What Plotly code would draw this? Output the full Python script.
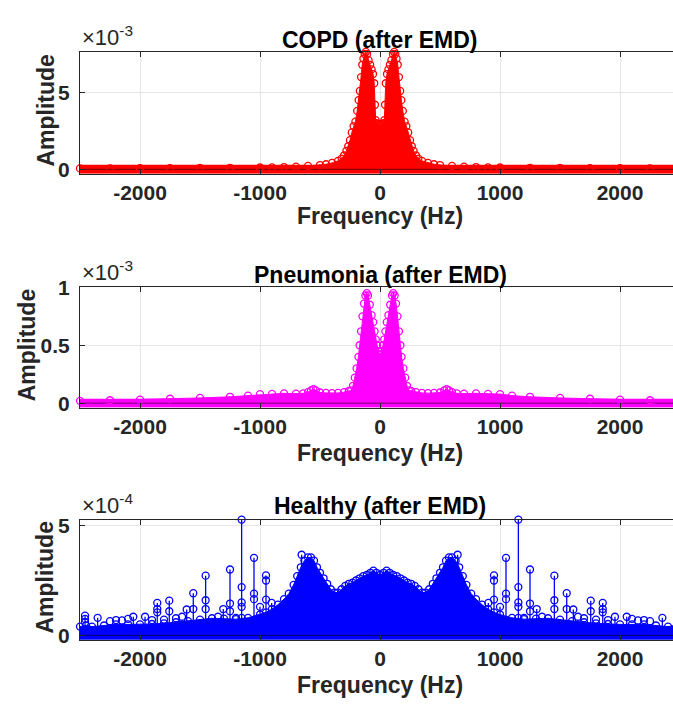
import plotly.graph_objects as go

# ---------------- data ----------------
freq_ticks = [-2000, -1000, 0, 1000, 2000]
freq_tick_text = ["-2000", "-1000", "0", "1000", "2000"]

# COPD spectrum envelope, amplitude in units of 1e-3
copd_freq = [-2500, -2250, -2000, -1750, -1500, -1250, -1000, -900, -800, -700, -600, -500,
             -450, -400, -350, -320, -300, -280, -265, -250, -235, -220, -205, -190, -178,
             -168, -158, -148, -138, -128, -118, -108, -95, -82, -70, -58, -48, -42, -36,
             -28, -18, -8, 0,
             8, 18, 28, 36, 42, 48, 58, 70, 82, 95, 108, 118, 128, 138, 148, 158, 168, 178,
             190, 205, 220, 235, 250, 265, 280, 300, 320, 350, 400, 450, 500, 600, 700, 800,
             900, 1000, 1250, 1500, 1750, 2000, 2250, 2500]
copd_amp = [0.06, 0.06, 0.07, 0.08, 0.09, 0.10, 0.12, 0.13, 0.15, 0.18, 0.22, 0.28,
            0.33, 0.42, 0.55, 0.7, 0.9, 1.2, 1.5, 1.9, 2.4, 2.8, 3.1, 3.8, 4.5,
            5.1, 6.0, 6.8, 7.2, 7.5, 7.64, 7.5, 7.1, 6.8, 6.5, 6.2, 5.6, 4.2, 3.2,
            3.0, 2.95, 2.9, 2.9,
            2.9, 2.95, 3.0, 3.2, 4.2, 5.6, 6.2, 6.5, 6.8, 7.1, 7.5, 7.64, 7.5, 7.2, 6.8, 6.0,
            5.1, 4.5, 3.8, 3.1, 2.8, 2.4, 1.9, 1.5, 1.2, 0.9, 0.7, 0.55, 0.42, 0.33, 0.28,
            0.22, 0.18, 0.15, 0.13, 0.12, 0.10, 0.09, 0.08, 0.07, 0.06, 0.06]

# Pneumonia spectrum envelope, amplitude in units of 1e-3
pneumonia_freq = [-2500, -2250, -2000, -1750, -1500, -1250, -1100, -1000, -900, -800, -700,
                  -640, -600, -575, -555, -535, -500, -450, -400, -350, -300, -260, -240,
                  -225, -210, -195, -180, -170, -158, -146, -134, -122, -110, -100, -85, -70,
                  -56, -45, -35, -25, -15, -6, 0,
                  6, 15, 25, 35, 45, 56, 70, 85, 100, 110, 122, 134, 146, 158, 170, 180, 195,
                  210, 225, 240, 260, 300, 350, 400, 450, 500, 535, 555, 575, 600, 640, 700,
                  800, 900, 1000, 1100, 1250, 1500, 1750, 2000, 2250, 2500]
pneumonia_amp = [0.02, 0.025, 0.03, 0.038, 0.045, 0.055, 0.065, 0.078, 0.08, 0.085, 0.082,
                 0.085, 0.095, 0.11, 0.12, 0.11, 0.092, 0.088, 0.086, 0.088, 0.095, 0.105, 0.11,
                 0.15, 0.22, 0.3, 0.4, 0.5, 0.62, 0.75, 0.86, 0.93, 0.95, 0.93, 0.85, 0.76,
                 0.7, 0.62, 0.55, 0.5, 0.45, 0.42, 0.4,
                 0.42, 0.45, 0.5, 0.55, 0.62, 0.7, 0.76, 0.85, 0.93, 0.95, 0.93, 0.86, 0.75,
                 0.62, 0.5, 0.4, 0.3, 0.22, 0.15, 0.11, 0.105, 0.095, 0.088, 0.086, 0.088,
                 0.092, 0.11, 0.12, 0.11, 0.095, 0.085, 0.082, 0.085, 0.08, 0.078, 0.065,
                 0.055, 0.045, 0.038, 0.03, 0.025, 0.02]

# Healthy spectrum envelope, amplitude in units of 1e-4
healthy_freq = [-2500, -2450, -2400, -2300, -2200, -2100, -2000, -1900, -1800, -1700, -1600,
                -1500, -1400, -1300, -1200, -1100, -1000, -950, -900, -850, -800, -760, -720,
                -690, -660, -630, -600, -575, -550, -525, -500, -470, -440, -410, -380, -350,
                -320, -290, -260, -230, -200, -170, -140, -110, -80, -55, -30, 0,
                30, 55, 80, 110, 140, 170, 200, 230, 260, 290, 320, 350, 380, 410, 440, 470,
                500, 525, 550, 575, 600, 630, 660, 690, 720, 760, 800, 850, 900, 950, 1000,
                1100, 1200, 1300, 1400, 1500, 1600, 1700, 1800, 1900, 2000, 2100, 2200, 2300,
                2400, 2450, 2500]
healthy_amp = [0.4, 0.45, 0.4, 0.45, 0.5, 0.5, 0.5, 0.52, 0.55, 0.6, 0.65,
               0.72, 0.78, 0.76, 0.74, 0.8, 0.95, 1.05, 1.2, 1.4, 1.65, 1.9, 2.3,
               2.7, 3.1, 3.4, 3.55, 3.55, 3.4, 3.1, 2.85, 2.6, 2.35, 2.1, 1.95, 1.95,
               2.1, 2.25, 2.35, 2.4, 2.5, 2.6, 2.7, 2.75, 2.85, 2.95, 2.85, 2.75,
               2.85, 2.95, 2.85, 2.75, 2.7, 2.6, 2.5, 2.4, 2.35, 2.25, 2.1, 1.95, 1.95, 2.1,
               2.35, 2.6, 2.85, 3.1, 3.4, 3.55, 3.55, 3.4, 3.1, 2.7, 2.3, 1.9, 1.65, 1.4,
               1.2, 1.05, 0.95, 0.8, 0.74, 0.76, 0.78, 0.72, 0.65, 0.6, 0.55, 0.52, 0.5,
               0.5, 0.5, 0.45, 0.4, 0.45, 0.4]

# Healthy: isolated tall stems (units of 1e-4)
healthy_spike_freq = [-2458, -2353, -2056, -1958, -1856, -1756, -1611, -1556, -1453, -1306,
                      -1250, -1153, -1050, -1000, -950, -903, -653,
                      647, 903, 950, 1000, 1050, 1153, 1250, 1306, 1453, 1556, 1611, 1756,
                      1856, 1958, 2056, 2353, 2458]
healthy_spike_amp = [0.9, 0.8, 0.85, 0.85, 1.48, 1.58, 1.18, 1.92, 2.72, 1.2,
                     3.0, 5.27, 3.53, 1.3, 2.73, 1.48, 3.67,
                     3.67, 1.48, 2.73, 1.3, 3.53, 5.27, 3.0, 1.2, 2.72, 1.92, 1.18, 1.58,
                     1.48, 0.85, 0.85, 0.8, 0.9]
# Healthy: extra circles sitting on stems / scattered low circles (units of 1e-4)
healthy_extra_freq = [-2458, -2458, -1856, -1856, -1756, -1556, -1453, -1453, -1250, -1250,
                      -1153, -1153, -1153, -1153, -1050, -1050, -950, -950,
                      -2250, -2200, -2150, -2100, -1900, -1800, -1700, -1650, -1350, -1200,
                      950, 950, 1050, 1050, 1153, 1153, 1153, 1153, 1250, 1250, 1453, 1453,
                      1556, 1756, 1856, 1856, 2458, 2458,
                      1200, 1350, 1650, 1700, 1800, 1900, 2100, 2150, 2200, 2250]
healthy_extra_amp = [0.75, 0.6, 1.2, 1.05, 1.1, 1.2, 1.6, 1.2, 1.45, 1.1,
                     2.2, 1.5, 1.3, 0.8, 1.9, 1.65, 2.5, 1.63,
                     0.65, 0.7, 0.68, 0.75, 0.7, 0.72, 0.78, 0.85, 0.85, 0.8,
                     2.5, 1.63, 1.9, 1.65, 2.2, 1.5, 1.3, 0.8, 1.45, 1.1, 1.6, 1.2,
                     1.2, 1.1, 1.2, 1.05, 0.75, 0.6,
                     0.8, 0.85, 0.85, 0.78, 0.72, 0.7, 0.75, 0.68, 0.7, 0.65]

panel_titles = ["COPD (after EMD)", "Pneumonia (after EMD)", "Healthy (after EMD)"]
panel_exponents = ["-3", "-3", "-4"]
y_tick_vals = [[0, 5], [0, 0.5, 1], [0, 5]]
y_tick_text = [["0", "5"], ["0", "0.5", "1"], ["0", "5"]]
y_max = [7.64, 1.0, 5.27]
x_title = "Frequency (Hz)"
y_title = "Amplitude"

# ---------------- styling / geometry ----------------
W, H = 673, 704
L = 80
FONT = "Liberation Sans, Arial, Helvetica, sans-serif"
colors = ["#ff0000", "#ff00ff", "#0000ff"]
dark = ["#8c0000", "#8c008c", "#00008c"]
panel_top_px = [41, 283, 521.7]
panel_zero_px = [161.7, 402, 640.7]
band_px = 4.5
title_px = [28.3, 270, 507.5]
xlabel_px = [210, 453.7, 691.5]
ylabel_x_px = [46, 27, 45]
x_range = [-2500, -2500 + (W - L) / 0.12]


def py(px):
    return 1 - px / H


def pxx(px):
    return (px - L) / (W - L)


fig = go.Figure()
series = [(copd_freq, copd_amp), (pneumonia_freq, pneumonia_amp), (healthy_freq, healthy_amp)]

annotations = []
layout_axes = {}
for i, (fq, am) in enumerate(series):
    k = "" if i == 0 else str(i + 1)
    xa, ya = "x" + k, "y" + k
    c = colors[i]
    # dense stem body
    fig.add_trace(go.Scatter(x=fq, y=am, mode="lines", fill="tozeroy", fillcolor=c,
                             line=dict(color=c, width=1), xaxis=xa, yaxis=ya,
                             hoverinfo="skip"))
    if i == 2:
        sx, sy = [], []
        for f, a in zip(healthy_spike_freq, healthy_spike_amp):
            sx += [f, f, None]
            sy += [0, a, None]
        fig.add_trace(go.Scatter(x=sx, y=sy, mode="lines", line=dict(color=c, width=1.3),
                                 xaxis=xa, yaxis=ya, hoverinfo="skip"))
    # band of near-zero stems + baseline
    fig.add_trace(go.Scatter(x=[fq[0], fq[-1]], y=[0, 0], mode="lines",
                             line=dict(color=c, width=2 * band_px), xaxis=xa, yaxis=ya,
                             hoverinfo="skip"))
    fig.add_trace(go.Scatter(x=[fq[0], fq[-1]], y=[0, 0], mode="lines",
                             line=dict(color=dark[i], width=1.3), xaxis=xa, yaxis=ya,
                             hoverinfo="skip"))
    mk = dict(symbol="circle-open", size=7, color=c, line=dict(width=1.3, color=c))
    fig.add_trace(go.Scatter(x=fq, y=am, mode="markers", marker=mk, cliponaxis=False,
                             xaxis=xa, yaxis=ya, hoverinfo="skip"))
    if i == 2:
        fig.add_trace(go.Scatter(x=healthy_spike_freq + healthy_extra_freq,
                                 y=healthy_spike_amp + healthy_extra_amp, mode="markers",
                                 marker=mk, cliponaxis=False, xaxis=xa, yaxis=ya,
                                 hoverinfo="skip"))

    top, zero = panel_top_px[i], panel_zero_px[i]
    upp = y_max[i] / (zero - top)
    ybot = -band_px * upp
    layout_axes["xaxis" + k] = dict(
        domain=[0, 1], anchor=ya, range=x_range, tickvals=freq_ticks, ticktext=freq_tick_text,
        ticks="inside", ticklen=5, tickcolor="#262626", showline=True, linecolor="#262626",
        linewidth=1, mirror="ticks", showgrid=True, gridcolor="#e6e6e6", gridwidth=1,
        zeroline=False, ticklabelstandoff=0,
        tickfont=dict(family=FONT, size=21, color="#262626", weight="bold"))
    layout_axes["yaxis" + k] = dict(
        domain=[py(zero + band_px), py(top)], anchor=xa, range=[ybot, y_max[i]],
        tickvals=y_tick_vals[i], ticktext=y_tick_text[i], ticks="inside", ticklen=5,
        tickcolor="#262626", showline=True, linecolor="#262626", linewidth=1,
        showgrid=True, gridcolor="#e6e6e6", gridwidth=1, zeroline=False,
        ticklabelstandoff=5,
        tickfont=dict(family=FONT, size=21, color="#262626", weight="bold"))

    annotations.append(dict(text=panel_titles[i], x=pxx(380), y=py(title_px[i]),
                            xref="paper", yref="paper", xanchor="center", yanchor="middle",
                            showarrow=False,
                            font=dict(family=FONT, size=23, color="#000000", weight="bold")))
    annotations.append(dict(text=x_title, x=pxx(380), y=py(xlabel_px[i]),
                            xref="paper", yref="paper", xanchor="center", yanchor="middle",
                            showarrow=False,
                            font=dict(family=FONT, size=23, color="#262626", weight="bold")))
    annotations.append(dict(text=y_title, x=pxx(ylabel_x_px[i]), y=py((top + zero) / 2),
                            xref="paper", yref="paper", xanchor="center", yanchor="middle",
                            textangle=-90, showarrow=False,
                            font=dict(family=FONT, size=23, color="#262626", weight="bold")))
    annotations.append(dict(text="\u00d710<sup>" + panel_exponents[i] + "</sup>",
                            x=pxx(80), y=py(top), xref="paper", yref="paper",
                            xanchor="left", yanchor="bottom", showarrow=False, yshift=0,
                            font=dict(family=FONT, size=22, color="#262626")))

fig.update_layout(width=W, height=H, margin=dict(l=L, r=0, t=0, b=0, pad=0),
                  paper_bgcolor="white", plot_bgcolor="white", showlegend=False,
                  annotations=annotations, **layout_axes)

fig.write_html("out.html")
